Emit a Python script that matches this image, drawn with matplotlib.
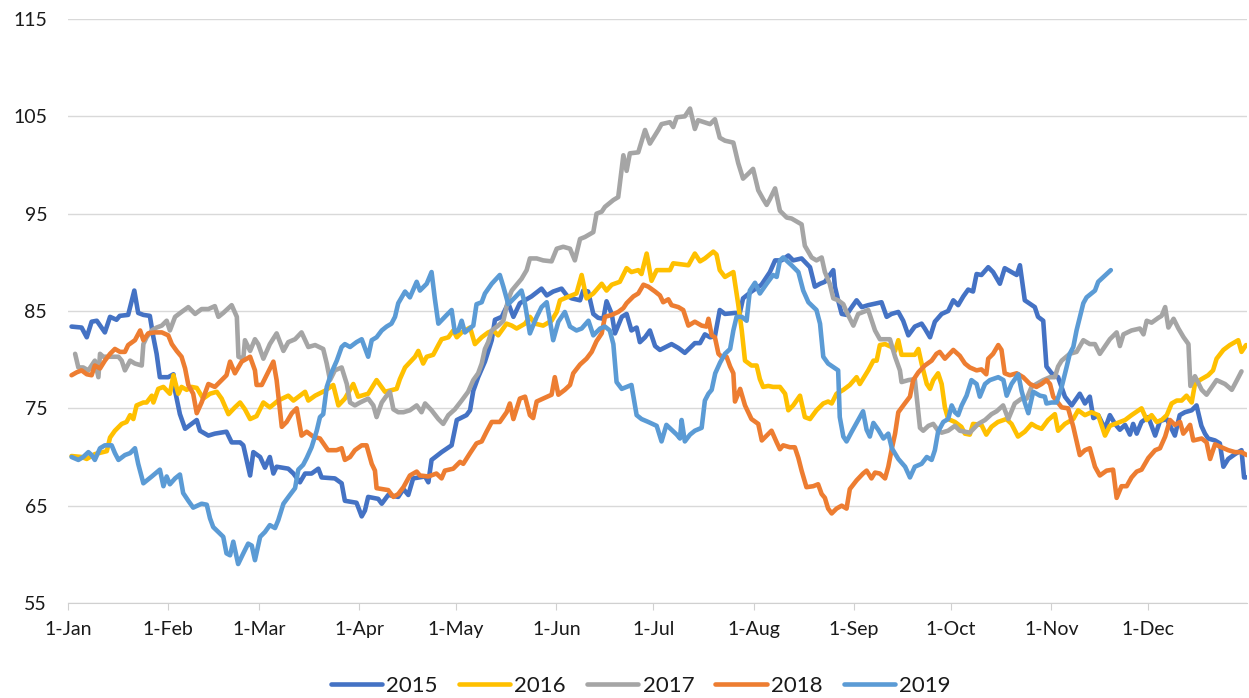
import matplotlib.pyplot as plt

# values (day of year from 1-Jan = 0)
d2015 = [1.1, 4.2, 5.8, 7.3, 8.9, 11.4, 13, 15, 16, 18.6, 20.5, 21.7, 23.3, 25.3, 26.4, 27.4, 28.4, 31, 32.6, 33.1,
         34.6, 36.2, 38.2, 39.8, 40.8, 43.4, 45.4, 49, 50.6, 53.2, 54.2, 56.3, 57.3, 59.4, 60.9, 62.4, 63.5, 64.5,
         68.1, 69.7, 71.7, 73.3, 75.3, 77.4, 78.4, 82.5, 84.6, 85.6, 89.2, 90.8, 91.8, 92.8, 95.9, 97, 99, 102.1,
         103.7, 105.2, 106.7, 110.4, 111.4, 112.4, 115.5, 118.6, 120.2, 123.2, 124.3, 125.3, 126.8, 128.9, 131, 132,
         134.1, 136.1, 137.7, 139.7, 143.3, 146.4, 148, 150, 152.6, 154.2, 155.7, 158.3, 159.3, 160.8, 162.4, 163.9,
         165.5, 166.5, 168.1, 169.1, 171.2, 172.7, 174.2, 175.8, 176.8, 178.4, 179.9, 181.5, 183, 186.6, 188.7,
         190.7, 193.8, 195.4, 196.9, 198.5, 200, 201.5, 203.1, 206.2, 207.7, 208.7, 211.3, 214.4, 217, 218.6, 220.6,
         222.7, 224.2, 226.8, 229.4, 230.9, 232.5, 234, 235.5, 236.6, 237.1, 238.1, 239.2, 240.7, 242.3, 243.8,
         245.4, 247.4, 251.5, 253.1, 254.6, 256.7, 258.2, 259.8, 261.8, 263.9, 264.9, 266.5, 268, 270.1, 272.1,
         273.7, 275.2, 276.8, 278.3, 279.8, 280.9, 282.4, 284.5, 286, 288.1, 289.6, 291.7, 293.3, 294.3, 295.8,
         298.9, 299.9, 301.5, 302.5, 304.1, 306.1, 308.2, 310.3, 312.8, 314.4, 315.9, 317, 318.5, 320.6, 322.1,
         323.7, 325.2, 326.8, 328.3, 329.3, 330.4, 331.9, 334, 336.1, 337.6, 339.7, 342.2, 343.7, 345.3, 347.4,
         348.9, 350.4, 351.5, 352.5, 354.6, 356.1, 357.2, 358.7, 360.8, 362.8, 363.6, 364.2]
v2015 = [83.4, 83.3, 82.3, 83.9, 84.0, 82.8, 84.4, 84.1, 84.5, 84.6, 87.1, 84.8, 84.6, 84.5, 82.3, 80.6, 78.2, 78.2,
         78.5, 76.8, 74.4, 72.9, 73.4, 73.8, 72.7, 72.2, 72.4, 72.6, 71.5, 71.5, 71.2, 68.1, 70.5, 70.0, 68.9, 70.0,
         68.3, 69.0, 68.8, 68.3, 67.4, 68.3, 68.3, 68.8, 67.9, 67.8, 67.3, 65.5, 65.3, 63.9, 64.5, 65.9, 65.7, 65.2,
         66.1, 65.9, 66.7, 66.1, 67.8, 68.0, 67.4, 69.7, 70.5, 71.2, 73.8, 74.3, 74.8, 76.8, 78.2, 79.8, 82.0, 84.1,
         84.4, 85.8, 84.4, 85.8, 86.5, 87.3, 86.6, 87.0, 87.3, 86.6, 86.3, 86.1, 87.1, 87.0, 84.7, 84.3, 84.2, 86.0,
         84.7, 82.7, 84.4, 84.7, 83.0, 83.3, 81.8, 82.3, 83.0, 81.4, 81.0, 81.6, 81.2, 80.7, 81.7, 81.7, 82.6, 82.3,
         82.4, 85.1, 84.7, 84.8, 84.8, 86.3, 87.0, 87.7, 89.0, 90.2, 90.2, 90.7, 90.2, 90.4, 89.5, 87.5, 87.8, 88.0,
         88.7, 89.2, 87.5, 86.1, 84.7, 84.6, 85.4, 86.1, 85.4, 85.6, 85.9, 84.4, 84.7, 84.9, 84.0, 82.5, 83.4, 83.7,
         83.2, 82.3, 83.9, 84.7, 85.0, 86.1, 85.6, 86.5, 87.2, 87.0, 88.8, 88.7, 89.5, 89.0, 87.8, 89.4, 89.0, 88.7,
         89.7, 86.1, 85.4, 84.4, 84.0, 79.3, 78.6, 78.2, 76.2, 75.3, 76.5, 75.5, 76.2, 74.0, 74.3, 72.9, 74.3, 73.4,
         72.8, 73.3, 72.3, 73.4, 72.4, 73.6, 74.1, 72.2, 73.7, 73.9, 72.2, 74.3, 74.6, 74.8, 75.3, 73.2, 72.4, 71.9,
         71.7, 71.4, 69.0, 69.8, 70.3, 70.7, 67.9, 67.9]

d2016 = [1.1, 4.2, 5.8, 8.3, 12, 13, 14.5, 16.6, 18.1, 19.2, 20.2, 21.2, 23.3, 24.3, 25.9, 26.4, 27.9, 29.5, 31.5,
         32.6, 34.1, 35.1, 36.7, 38.2, 39.8, 41.8, 43.9, 46, 47.5, 49.6, 51.6, 53.2, 54.7, 56.3, 58.3, 60.4, 62.4, 65,
         68.1, 69.7, 71.7, 73.3, 74.3, 76.4, 79.4, 82, 83.6, 85.6, 88.2, 89.7, 92.8, 95.4, 98, 101.6, 102.6, 104.2,
         107.3, 108.3, 109.8, 110.9, 112.9, 114.5, 115.5, 117.6, 119.1, 120.2, 121.7, 124.3, 125.8, 127.9, 129.9,
         131.5, 133, 135.6, 137.2, 138.7, 141.3, 142.8, 144.4, 146.9, 149.5, 151.1, 152.1, 154.2, 155.7, 157.2,
         158.8, 160.3, 162.4, 165, 166.5, 168.1, 170.6, 172.7, 174.2, 176.3, 177.3, 178.9, 180.4, 182, 186.1, 187.1,
         191.8, 193.8, 195.4, 196.9, 199.5, 200.5, 201.5, 203.1, 205.7, 207.2, 208.3, 209.3, 211.3, 212.9, 213.9,
         214.9, 216.5, 218, 220.1, 221.7, 222.7, 224.2, 226.3, 227.8, 229.4, 231.4, 233.5, 235, 236.1, 237.6, 239.7,
         241.7, 243.8, 244.8, 247.4, 249, 250, 251, 252.6, 254.6, 255.7, 256.7, 257.7, 259.8, 261.8, 262.9, 263.9,
         265.5, 266.5, 267.5, 269, 270.1, 271.1, 272.1, 274.2, 276.2, 277.3, 278.8, 279.8, 282.4, 283.9, 285.5,
         287.5, 290.1, 291.7, 293.7, 295.8, 297.9, 299.4, 301, 303, 305.1, 306.1, 308.2, 310.8, 312.3, 314.4, 316.4,
         318.5, 320.6, 322.1, 323.7, 326.8, 328.8, 331.9, 333.5, 335, 336.6, 338.1, 339.7, 341.2, 342.8, 344.3,
         345.8, 347.4, 348.4, 349.9, 352.5, 354, 355.1, 357.2, 359.2, 361.8, 362.8, 364.2]
v2016 = [70.1, 70.0, 69.8, 70.3, 70.6, 72.0, 72.7, 73.4, 73.6, 74.3, 73.9, 75.3, 75.6, 75.6, 76.3, 75.6, 77.0, 77.2,
         76.5, 78.4, 76.5, 77.2, 76.9, 77.2, 77.1, 76.0, 76.5, 76.7, 76.0, 74.4, 75.1, 75.6, 74.9, 73.9, 74.2, 75.6,
         75.1, 75.8, 76.3, 75.8, 76.3, 76.7, 75.8, 76.3, 76.8, 77.4, 75.3, 76.0, 77.5, 76.2, 76.5, 77.9, 76.7, 77.0,
         78.0, 79.2, 80.3, 80.9, 79.6, 80.3, 80.5, 81.5, 82.1, 82.3, 83.0, 82.3, 82.8, 83.3, 81.6, 82.3, 82.8, 83.0,
         82.5, 83.7, 83.5, 83.2, 83.7, 84.4, 83.7, 83.5, 84.0, 84.9, 86.1, 86.4, 86.6, 86.8, 88.7, 86.3, 86.8, 87.8,
         87.1, 87.7, 88.0, 89.4, 89.0, 89.2, 88.8, 90.9, 88.1, 89.2, 89.2, 89.9, 89.7, 90.9, 90.1, 90.4, 91.1, 90.8,
         89.2, 88.5, 89.0, 85.7, 83.0, 79.9, 79.4, 79.4, 78.0, 77.2, 77.3, 77.2, 77.2, 76.5, 74.8, 75.3, 76.3, 74.1,
         73.9, 74.8, 75.5, 75.7, 75.5, 76.5, 76.9, 77.4, 78.2, 77.5, 78.9, 79.9, 79.9, 81.5, 81.6, 81.3, 80.9, 82.0,
         80.5, 80.5, 80.5, 81.1, 79.6, 77.5, 77.0, 77.9, 78.6, 77.5, 75.1, 73.9, 73.6, 73.1, 72.4, 72.3, 73.4, 73.3,
         72.3, 73.1, 73.6, 73.9, 73.4, 72.1, 72.6, 73.4, 73.1, 72.9, 73.8, 74.4, 72.7, 73.4, 73.9, 74.8, 74.3, 74.6,
         74.3, 72.2, 73.2, 73.4, 73.8, 74.3, 75.0, 73.8, 74.3, 73.6, 73.8, 74.3, 75.5, 75.8, 75.8, 76.3, 75.6, 77.5,
         77.9, 78.4, 78.9, 80.1, 81.0, 81.5, 82.0, 80.8, 81.5]

d2017 = [2.2, 3.2, 4.7, 6.3, 8.3, 9.4, 9.9, 10.9, 13.5, 15.6, 16.6, 17.6, 19.2, 20.7, 22.8, 23.3, 24.3, 25.9, 27.4,
         29, 30.5, 31.5, 33.1, 35.1, 37.2, 39.3, 41.3, 43.4, 45.4, 46.5, 48, 50.6, 52.2, 52.7, 54.2, 54.7, 56.3, 57.8,
         58.8, 60.4, 62.4, 64.5, 66.6, 68.1, 70.2, 72.2, 74.3, 76.4, 78.9, 80, 81, 82.5, 84.6, 86.2, 87.2, 88.7, 90.3,
         92.8, 94.4, 95.4, 97, 98.5, 99.5, 100.6, 102.1, 103.7, 105.7, 107.8, 109.3, 110.4, 112.4, 114.5, 116, 117.6,
         119.6, 121.7, 123.7, 125.3, 126.8, 127.9, 128.9, 129.9, 131, 133, 134.6, 136.1, 137.2, 138.2, 140.2, 141.8,
         142.8, 144.9, 146.9, 149.5, 151.1, 153.1, 155.2, 156.7, 158.3, 159.8, 162.4, 163.4, 165, 166, 168.6, 170.1,
         171.7, 172.7, 173.7, 176.3, 178.4, 179.9, 182.5, 183.5, 186.1, 187.1, 188.2, 190.7, 192.3, 193.8, 194.8,
         198.5, 200, 201.5, 203.1, 205.7, 207.2, 208.7, 210.3, 211.8, 213.4, 214.9, 216, 217, 218.6, 220.1, 222.2,
         223.7, 226.8, 227.8, 229.9, 231.4, 233, 234, 235.5, 236.6, 238.1, 239.7, 240.7, 242.8, 244.3, 247.4, 249.5,
         251, 254.1, 255.7, 257.2, 257.7, 259.8, 261.8, 263.4, 264.4, 266, 267.5, 269, 270.1, 272.1, 274.2, 275.7,
         278.8, 281.4, 283.5, 285.5, 287.1, 289.1, 290.7, 292.7, 294.8, 296.4, 297.9, 299.4, 301.5, 303.6, 305.1,
         306.1, 307.2, 309.7, 311.8, 313.9, 315.9, 317.5, 319, 322.1, 324.2, 325.2, 326.3, 328.8, 331.4, 332.5,
         333.5, 335, 337.1, 338.1, 339.2, 340.2, 341.8, 343.3, 344.9, 346.4, 347, 348.4, 350.5, 352, 355.1, 357.7,
         359.8, 361.4, 362.8]
v2017 = [80.6, 79.2, 79.2, 78.9, 79.9, 78.2, 80.6, 80.3, 80.3, 80.3, 79.9, 78.9, 79.9, 79.6, 79.4, 81.6, 82.3, 83.0,
         83.3, 83.5, 84.0, 83.0, 84.4, 84.9, 85.4, 84.7, 85.2, 85.2, 85.5, 84.4, 84.8, 85.6, 84.4, 80.3, 80.1, 82.0,
         80.9, 82.1, 81.6, 80.1, 81.6, 82.7, 80.9, 81.8, 82.1, 82.8, 81.3, 81.5, 81.1, 79.6, 77.9, 78.9, 79.2, 77.5,
         75.6, 75.3, 75.6, 76.0, 75.3, 74.1, 75.6, 76.3, 76.7, 74.9, 74.6, 74.6, 74.8, 75.3, 74.6, 75.5, 74.8, 73.9,
         73.4, 74.3, 74.9, 75.8, 76.7, 77.9, 78.6, 79.6, 81.1, 81.8, 83.0, 83.5, 84.0, 86.2, 87.1, 87.5, 88.3, 89.2,
         90.4, 90.4, 90.2, 90.1, 91.4, 91.6, 91.4, 90.2, 92.4, 92.6, 93.1, 95.0, 95.2, 95.7, 96.4, 96.7, 101.0, 99.4,
         101.2, 101.3, 103.6, 102.2, 103.6, 104.2, 104.4, 103.9, 104.9, 105.0, 105.8, 103.7, 104.6, 104.2, 104.7,
         102.8, 102.5, 102.3, 100.2, 98.6, 99.1, 99.6, 97.4, 96.5, 95.9, 96.5, 97.6, 95.3, 94.6, 94.5, 93.9, 91.7,
         90.5, 90.2, 90.5, 89.0, 87.8, 86.3, 86.1, 85.7, 84.9, 83.5, 84.7, 85.1, 83.0, 82.1, 82.1, 80.3, 78.9, 77.7,
         77.9, 78.0, 73.0, 72.7, 73.2, 73.4, 72.7, 72.5, 72.7, 73.2, 72.7, 72.5, 73.4, 73.8, 74.4, 74.7, 75.3, 73.9,
         75.5, 76.0, 76.0, 77.2, 77.5, 77.9, 78.2, 78.2, 79.3, 79.9, 80.6, 80.8, 82.0, 81.6, 81.6, 80.6, 82.1, 82.8,
         81.4, 82.6, 83.0, 83.2, 82.6, 84.0, 83.8, 84.3, 84.5, 85.4, 83.3, 84.2, 83.2, 82.3, 81.6, 77.3, 78.3, 76.9,
         76.4, 77.9, 77.5, 76.9, 77.9, 78.8]

d2018 = [1.1, 2.7, 4.2, 5.8, 7.3, 8.3, 9.9, 11.4, 13, 14.5, 16.1, 17.6, 18.6, 20.7, 22.3, 23.3, 24.8, 26.9, 29, 31,
         32.1, 33.6, 35.1, 36.2, 37.2, 38.7, 39.8, 41.3, 43.4, 45.4, 47.5, 49, 50.1, 51.6, 53.7, 56.3, 57.8, 58.3,
         59.9, 61.4, 63.5, 64.5, 66.1, 67.6, 69.2, 70.7, 72.2, 73.8, 75.8, 77.9, 80.4, 83, 84.6, 85.6, 87.2, 88.7,
         90.8, 92.3, 93.9, 94.9, 95.4, 99, 100.6, 102.1, 103.7, 105.7, 107.8, 108.8, 111.4, 113.9, 115.5, 116.5,
         119.1, 121.2, 122.2, 124.3, 126.3, 127.9, 129.4, 131, 133.5, 135.6, 136.6, 137.7, 139.7, 141.3, 142.8,
         143.8, 144.9, 146.9, 149.5, 150.5, 151.6, 153.6, 155.2, 156.2, 158.3, 160.3, 161.9, 163.4, 165, 166, 168.1,
         170.1, 171.7, 172.7, 174.8, 176.3, 177.9, 179.4, 181.5, 183, 184, 185.6, 186.6, 188.7, 190.2, 191.8, 193.8,
         195.9, 197.4, 198, 199, 200, 201.1, 202.1, 203.6, 204.7, 205.7, 206.2, 207.8, 209.3, 211.3, 213.4, 214.5,
         217.5, 219.1, 220.1, 221.1, 223.2, 224.7, 225.8, 226.8, 228.3, 230.4, 231.9, 233, 234, 235, 236.1, 237.6,
         239.2, 240.7, 241.7, 243.8, 245.8, 246.9, 248.4, 249.5, 251, 252.6, 253.6, 254.6, 255.7, 256.7, 258.7,
         260.3, 261.3, 262.9, 264.9, 267, 268.5, 269.5, 271.1, 273.7, 275.7, 277.3, 278.8, 280.9, 282.4, 283.9,
         284.5, 286, 287.6, 288.6, 289.6, 291.2, 293.3, 295.3, 297.4, 299.4, 301, 302.5, 303.6, 304.6, 307.2, 309.2,
         310.8, 312.8, 314.4, 315.9, 317.5, 319, 321.1, 323.1, 324.2, 325.7, 327.3, 328.8, 330.4, 331.9, 334, 336.1,
         337.6, 339.2, 340.7, 342.2, 343.8, 344.8, 345.8, 346.9, 347.9, 350.5, 352, 353.1, 354.6, 356.6, 358.7,
         360.8, 362.8, 364.4]
v2018 = [78.4, 78.7, 78.9, 78.5, 78.4, 79.4, 79.1, 79.9, 80.6, 81.1, 80.8, 80.8, 81.5, 82.0, 83.0, 82.0, 82.7, 82.8,
         82.8, 82.5, 81.6, 80.9, 80.3, 79.1, 77.4, 76.5, 74.5, 75.6, 77.5, 77.2, 77.9, 78.4, 79.8, 78.6, 79.8, 80.3,
         78.9, 77.4, 77.4, 78.4, 79.8, 77.9, 73.1, 73.6, 74.5, 75.0, 72.2, 72.6, 72.1, 71.9, 70.7, 70.7, 70.9, 69.7,
         70.0, 70.7, 71.2, 71.2, 69.3, 68.6, 66.8, 66.6, 65.9, 66.2, 66.9, 68.1, 68.5, 68.1, 68.0, 68.3, 67.8, 68.6,
         68.8, 69.5, 69.3, 70.4, 71.4, 71.6, 72.6, 73.6, 73.6, 74.6, 75.5, 73.9, 76.0, 76.2, 74.3, 74.0, 75.7, 76.0,
         76.4, 78.2, 76.4, 76.9, 77.4, 78.6, 79.5, 80.1, 80.8, 81.9, 82.7, 84.4, 84.6, 84.9, 85.3, 85.8, 86.5, 86.8,
         87.7, 87.5, 87.0, 86.6, 85.9, 86.2, 85.6, 85.4, 85.1, 83.5, 83.9, 83.5, 83.4, 84.2, 82.5, 82.3, 80.6, 80.3,
         80.3, 79.3, 78.6, 75.7, 77.0, 75.3, 73.9, 73.4, 71.7, 72.7, 71.5, 70.8, 71.2, 71.0, 71.0, 69.9, 68.6, 66.9,
         67.0, 67.2, 66.2, 65.8, 64.7, 64.2, 64.7, 65.0, 64.7, 66.7, 67.6, 68.3, 68.6, 67.8, 68.4, 68.3, 67.8, 69.0,
         70.7, 72.4, 74.6, 75.5, 76.2, 77.9, 78.7, 79.4, 79.9, 80.6, 80.8, 80.1, 81.0, 80.4, 79.6, 79.2, 78.9, 79.0,
         78.5, 80.1, 80.6, 81.5, 81.0, 78.6, 78.4, 78.6, 78.2, 77.5, 77.2, 77.5, 77.9, 77.5, 76.2, 75.1, 75.0, 73.1,
         70.2, 70.7, 70.9, 69.0, 68.1, 68.6, 68.7, 65.8, 67.0, 67.0, 67.9, 68.5, 68.7, 69.9, 70.7, 70.9, 72.1, 73.8,
         73.3, 73.6, 72.4, 72.8, 73.3, 71.7, 71.9, 71.5, 69.8, 71.3, 71.0, 70.7, 70.5, 70.5, 70.2]

d2019 = [1.1, 3.2, 4.7, 6.3, 7.3, 8.3, 9.9, 11.4, 13.5, 14.5, 15.6, 17.6, 19.2, 20.7, 21.7, 23.3, 25.9, 28.4, 29.5,
         30.5, 31.5, 33.1, 34.6, 35.6, 37.2, 38.7, 41.3, 42.9, 43.9, 44.9, 48, 49, 50.1, 51.1, 52.6, 54.2, 55.7,
         56.8, 57.8, 59.4, 60.9, 62.4, 64, 65, 66.6, 68.6, 70.2, 71.2, 72.7, 73.8, 75.3, 76.9, 77.9, 78.9, 80, 81.5,
         83.1, 84.6, 85.6, 87.2, 89.2, 90.8, 92.8, 93.9, 95.4, 97, 98.5, 100, 101.1, 102.1, 104.2, 105.7, 107.8,
         108.8, 110.9, 112.4, 113.4, 114.5, 117.1, 118.6, 119.6, 120.7, 121.7, 122.7, 125.3, 126.3, 127.9, 128.9,
         131, 133.5, 134.6, 136.1, 138.2, 140.2, 141.3, 142.8, 144.9, 146.4, 148, 149, 150, 151.6, 153.6, 155.2,
         157.2, 158.8, 160.9, 162.4, 164.5, 166, 167.5, 168.6, 169.6, 171.2, 172.7, 174.2, 175.8, 177.3, 179.4, 182,
         183.5, 185, 186.6, 188.2, 189.2, 189.7, 190.7, 192.3, 193.8, 195.9, 196.9, 198, 199, 200.1, 201.6, 203.1,
         204.7, 205.7, 206.7, 208.3, 209.8, 210.8, 212.4, 213.9, 216, 218, 219.1, 220.1, 221.1, 223.7, 225.8, 227.3,
         228.9, 231.4, 232.5, 233.5, 235, 238.1, 238.6, 239.7, 240.7, 242.3, 244.3, 245.8, 246.9, 247.9, 249, 250.5,
         252.1, 253.6, 254.7, 256.7, 258.8, 260.3, 261.8, 263.9, 265.5, 267, 268, 269, 270.6, 272.1, 273.2, 274.2,
         275.2, 276.3, 277.8, 279.3, 280.9, 281.9, 283.5, 285, 287.6, 289.2, 290.2, 291.7, 293.8, 294.8, 295.8,
         296.9, 298.4, 300.5, 302, 302.5, 304.1, 305.6, 307.2, 308.7, 309.7, 310.8, 311.8, 313.9, 314.9, 317.5,
         318.5, 321.1, 322.4]
v2019 = [70.0, 69.7, 70.0, 70.5, 70.2, 69.7, 70.9, 71.2, 71.2, 70.4, 69.7, 70.2, 70.4, 70.9, 69.3, 67.3, 68.0, 68.7,
         67.0, 68.0, 67.2, 67.8, 68.2, 66.3, 65.5, 64.8, 65.2, 65.1, 63.7, 62.8, 61.8, 60.1, 59.9, 61.3, 59.0, 60.1,
         61.1, 60.9, 59.4, 61.8, 62.3, 63.0, 62.7, 63.5, 65.2, 66.1, 66.8, 68.7, 69.2, 69.9, 71.0, 72.7, 74.1, 74.4,
         77.2, 78.7, 79.9, 81.3, 81.6, 81.3, 81.8, 82.1, 80.3, 82.0, 82.3, 83.0, 83.4, 83.7, 84.4, 85.8, 87.0, 86.4,
         88.0, 87.1, 87.8, 89.0, 86.3, 83.7, 84.6, 85.1, 82.8, 83.0, 84.0, 82.8, 83.5, 85.7, 85.9, 86.8, 87.8, 88.7,
         87.5, 85.7, 86.4, 87.1, 85.7, 82.7, 84.4, 85.4, 85.9, 84.0, 82.0, 83.9, 84.9, 83.4, 83.0, 83.2, 84.0, 82.5,
         83.2, 83.4, 83.0, 81.6, 77.7, 77.0, 77.2, 77.4, 74.3, 73.9, 73.6, 73.2, 71.6, 73.3, 72.8, 72.3, 71.9, 73.8,
         71.6, 72.3, 72.7, 73.0, 75.8, 76.5, 76.9, 78.6, 79.7, 80.6, 81.1, 83.0, 84.4, 84.4, 84.0, 87.1, 87.9, 86.8,
         87.8, 88.7, 88.5, 90.2, 90.5, 89.7, 89.0, 87.1, 85.9, 85.1, 83.7, 80.3, 79.6, 78.9, 74.1, 72.1, 71.6, 72.6,
         73.8, 74.7, 72.8, 72.1, 73.5, 72.8, 71.9, 72.4, 70.9, 69.8, 69.0, 67.9, 69.0, 69.3, 70.0, 69.7, 70.7, 72.6,
         73.6, 73.9, 75.3, 74.6, 74.3, 75.3, 76.3, 77.9, 77.5, 76.2, 77.5, 77.9, 78.2, 77.9, 76.3, 77.5, 78.5, 76.8,
         75.6, 74.5, 76.7, 76.3, 76.2, 75.5, 75.6, 75.6, 77.2, 79.2, 80.6, 81.3, 83.0, 85.8, 86.4, 87.1, 88.0, 88.8,
         89.2]

series = [("2015", d2015, v2015, "#4472C4"),
          ("2016", d2016, v2016, "#FFC000"),
          ("2017", d2017, v2017, "#A5A5A5"),
          ("2018", d2018, v2018, "#ED7D31"),
          ("2019", d2019, v2019, "#5B9BD5")]

month_days = [0, 31, 59, 90, 120, 151, 181, 212, 243, 273, 304, 334]
month_labels = ["1-Jan", "1-Feb", "1-Mar", "1-Apr", "1-May", "1-Jun",
                "1-Jul", "1-Aug", "1-Sep", "1-Oct", "1-Nov", "1-Dec"]
y_ticks = [55, 65, 75, 85, 95, 105, 115]

plt.rcParams['font.family'] = ['Lato', 'DejaVu Sans']
txt = '#1a1a1a'

fig = plt.figure(figsize=(12.49, 6.98), dpi=100)
ax = fig.add_axes([68 / 1249, 95 / 698, 1179 / 1249, 584 / 698])

for name, d, v, c in series:
    ax.plot(d, v, color=c, lw=3.3, label=name, solid_joinstyle='round', solid_capstyle='round')

ax.set_xlim(0, 364.5)
ax.set_ylim(55, 115)
ax.set_yticks(y_ticks)
ax.set_xticks(month_days)
ax.set_xticklabels(month_labels)
ax.grid(axis='y', color='#D9D9D9', lw=1)
ax.set_axisbelow(True)
for s in ['top', 'right', 'left']:
    ax.spines[s].set_visible(False)
ax.spines['bottom'].set_color('#D0D0D0')
ax.tick_params(axis='y', length=0, pad=15, labelsize=14, labelcolor=txt)
ax.tick_params(axis='x', length=5, color='#D0D0D0', pad=8, labelsize=14, labelcolor=txt)

fig.legend(loc='center', bbox_to_anchor=(0.513, 0.017), ncol=5, frameon=False,
           fontsize=16, handlelength=2.3, handletextpad=0.2, columnspacing=0.95,
           labelcolor=txt)

fig.savefig("out.png", dpi=100)
